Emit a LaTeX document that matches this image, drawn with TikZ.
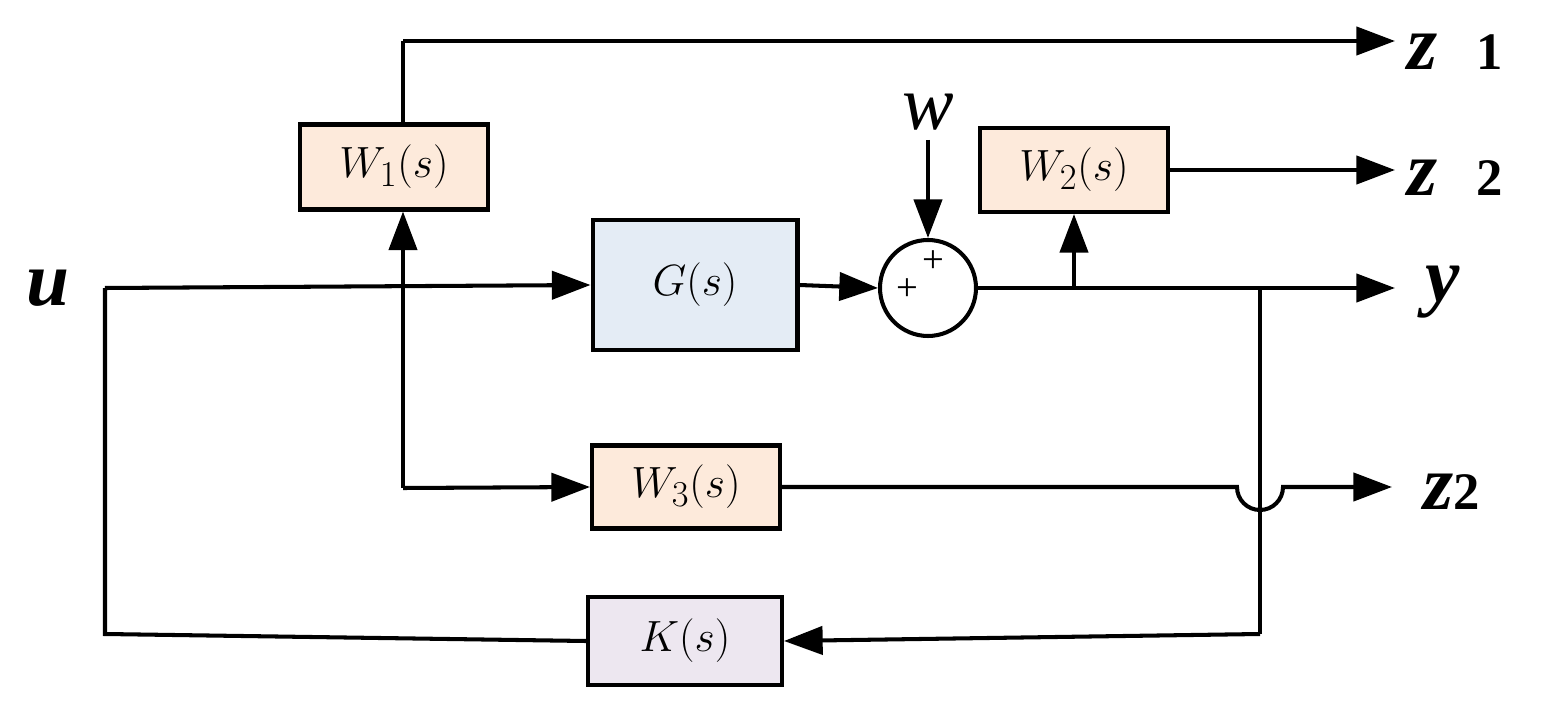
\documentclass[tikz,border=0pt]{standalone}
\usepackage{fontspec}
\setmainfont{Liberation Serif}
\usetikzlibrary{arrows.meta}
\definecolor{wfill}{HTML}{FDEADB}
\definecolor{gfill}{HTML}{E4ECF5}
\definecolor{kfill}{HTML}{EDE7F0}
\begin{document}
\begin{tikzpicture}[x=0.02cm,y=-0.02cm,
  line width=2.3pt,
  sig/.style={-{Triangle[length=22pt,width=16pt]}},
  blk/.style={draw,line width=2.3pt,inner sep=0pt,font=\fontsize{30}{30}\selectfont\itshape},
  lab/.style={font=\fontsize{44}{44}\selectfont\bfseries\itshape}]
\useasboundingbox (0,0) rectangle (1543,713);
% blocks
\node[blk,fill=wfill,minimum width=3.76cm,minimum height=1.7cm] (w1) at (394,167) {$W_1(s)$};
\node[blk,fill=gfill,minimum width=4.1cm,minimum height=2.6cm,font=\fontsize{40}{40}\selectfont\itshape] (g) at (695,285) {$G(s)$};
\node[draw,circle,line width=2.3pt,minimum size=1.92cm,inner sep=0pt] (sum) at (928,288) {};
\node[font=\fontsize{22}{22}\selectfont] at (907,290) {+};
\node[font=\fontsize{22}{22}\selectfont] at (933,262) {+};
\node[blk,fill=wfill,minimum width=3.76cm,minimum height=1.68cm] (w2) at (1074,170) {$W_2(s)$};
\node[blk,fill=wfill,minimum width=3.76cm,minimum height=1.66cm] (w3) at (686,487) {$W_3(s)$};
\node[blk,fill=kfill,minimum width=3.88cm,minimum height=1.76cm] (k) at (685,641) {$K(s)$};
% labels
\node[lab] (u) at (48,288) {u};
\node[lab] (y) at (1443,292) {y};
\node[lab] (z1) at (1455,52) {z\,\,\,\fontsize{30}{30}\selectfont\upshape 1};
\node[lab] (z2a) at (1455,178) {z\,\,\,\fontsize{30}{30}\selectfont\upshape 2};
\node[lab] (z2b) at (1452,492) {z\fontsize{30}{30}\selectfont\upshape 2};
\node[font=\fontsize{44}{44}\selectfont\itshape] (w) at (928,112) {w};
% coordinates
\coordinate (ul) at (105,288);
\coordinate (ub) at (105,634);
\coordinate (tap1) at (403,488);
\coordinate (top) at (403,41);
\coordinate (z1e) at (1395,41);
\coordinate (wtop) at (928,140);
\coordinate (tap2) at (1074,288);
\coordinate (tap3) at (1260,288);
\coordinate (tap3b) at (1260,634);
\coordinate (ye) at (1395,288);
\coordinate (z2e) at (1395,170);
\coordinate (hop) at (1237,487);
\coordinate (z3e) at (1392,487);
% connectors
\draw[sig] (ul) -- (g.west);
\draw (ul) -- (ub) -- (k.west);
\draw[sig] (g.east) -- (sum.west);
\draw[sig] (wtop) -- (sum.north);
\draw (sum.east) -- (tap2);
\draw[sig] (tap2) -- (w2.south);
\draw[sig] (tap2) -- (ye);
\draw[sig] (w2.east) -- (z2e);
\draw (w1.north -| top) -- (top);
\draw[sig] (top) -- (z1e);
\draw[sig] (tap1) -- (w1.south -| tap1);
\draw[sig] (tap1) -- (w3.west);
\draw (tap3) -- (tap3b);
\draw[sig] (tap3b) -- (k.east);
\draw[sig] (w3.east) -- (hop) arc[start angle=180,end angle=0,radius=23] -- (z3e);
\end{tikzpicture}
\end{document}
